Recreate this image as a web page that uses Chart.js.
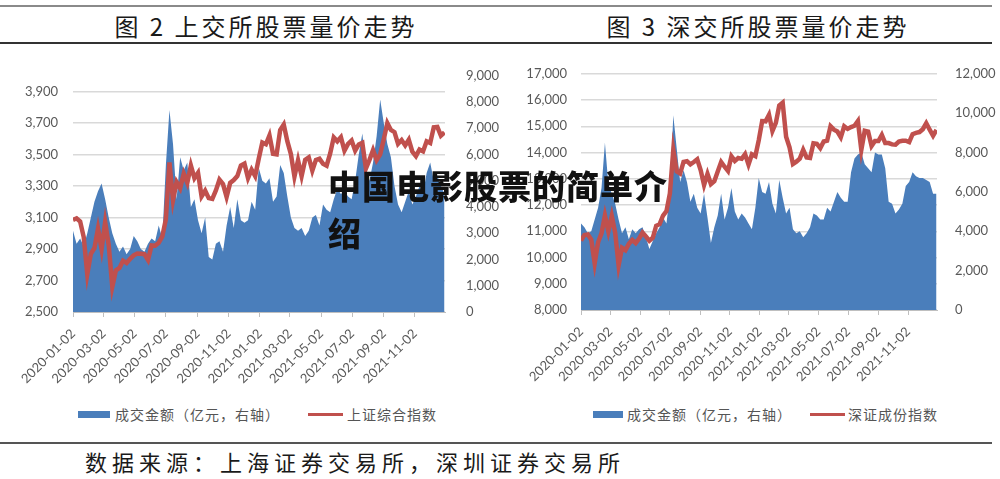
<!DOCTYPE html>
<html>
<head>
<meta charset="utf-8">
<script src="https://cdn.jsdelivr.net/npm/chart.js@4.4.0/dist/chart.umd.min.js"></script>
<style>
  body { margin: 0; width: 1000px; height: 479px; background: #fff; position: relative; overflow: hidden; font-family: "Noto Sans CJK SC", sans-serif; }
  .rule { position: absolute; left: 0; width: 992px; }
  .title { position: absolute; top: 11px; width: 400px; text-align: center; font-size: 24px; line-height: 30px; letter-spacing: 3px; color: #1a1a1a; }
  .box { position: absolute; width: 500px; }
  .legend { position: absolute; top: 404px; font-size: 14px; line-height: 20px; letter-spacing: 1px; color: #555; white-space: nowrap; }
  .swatch { position: absolute; }
  .source { position: absolute; left: 85px; top: 446px; font-size: 22px; line-height: 30px; letter-spacing: 5px; color: #1a1a1a; white-space: nowrap; }
  .mark { position: absolute; left: 328px; top: 162px; width: 350px; font-size: 33px; line-height: 47px; letter-spacing: 1px; font-weight: 900; color: #111; }
</style>
</head>
<body>
<div class="rule" style="top:5px;height:2px;background:#8a8a8a"></div>
<div class="rule" style="top:42px;height:2px;background:#333"></div>
<div class="rule" style="top:442px;height:2px;background:#555"></div>

<div class="title" style="left:66px">图 2 上交所股票量价走势</div>
<div class="title" style="left:558px">图 3 深交所股票量价走势</div>

<div class="box" style="left:0;top:53px;height:347px"><canvas id="sh" width="500" height="347"></canvas></div>
<div class="box" style="left:500px;top:52px;height:348px"><canvas id="sz" width="500" height="348"></canvas></div>

<div class="swatch" style="left:78px;top:411px;width:32px;height:7px;background:#4a7ebb"></div>
<div class="legend" style="left:115px">成交金额（亿元，右轴）</div>
<div class="swatch" style="left:308px;top:413px;width:35px;height:3px;background:#c0504d"></div>
<div class="legend" style="left:347px">上证综合指数</div>

<div class="swatch" style="left:593px;top:411px;width:30px;height:7px;background:#4a7ebb"></div>
<div class="legend" style="left:627px">成交金额（亿元，右轴）</div>
<div class="swatch" style="left:810px;top:413px;width:35px;height:3px;background:#c0504d"></div>
<div class="legend" style="left:848px">深证成份指数</div>

<div class="source">数据来源：上海证券交易所，深圳证券交易所</div>

<div class="mark">中国电影股票的简单介绍</div>

<script>
// weekly samples starting 2020-01-02
const startDate = '2020-01-02';
const endDate = '2021-12-31';
const stepDays = 7;

const xTickLabels = ['2020-01-02', '2020-03-02', '2020-05-02', '2020-07-02', '2020-09-02', '2020-11-02',
  '2021-01-02', '2021-03-02', '2021-05-02', '2021-07-02', '2021-09-02', '2021-11-02'];

// 上证综合指数
const shIndex = [
  3085, 3095, 3075, 2976, 2740, 2870, 2906, 3030, 2900, 3071,
  2923, 2660, 2764, 2780, 2826, 2811, 2838, 2860, 2871, 2870,
  2867, 2830, 2923, 2921, 2939, 2980, 3090, 3450, 3210, 3325,
  3286, 3378, 3320, 3430, 3350, 3384, 3234, 3270, 3223, 3218,
  3272, 3340, 3312, 3230, 3320, 3338, 3363, 3430, 3442, 3350,
  3404, 3363, 3473, 3576, 3565, 3621, 3505, 3501, 3655, 3690,
  3585, 3503, 3360, 3463, 3363, 3466, 3482, 3398, 3466, 3474,
  3441, 3429, 3507, 3609, 3584, 3610, 3525, 3567, 3589, 3525,
  3564, 3574, 3411, 3466, 3528, 3465, 3501, 3597, 3700, 3656,
  3642, 3568, 3592, 3558, 3594, 3518, 3490, 3532, 3520, 3584,
  3573, 3673, 3675, 3620, 3640
];
// 上交所成交金额（亿元）
const shVolume = [
  3100, 2600, 2800, 2500, 3000, 3600, 4200, 4600, 4900, 4300,
  3600, 3000, 2600, 2300, 2500, 2200, 2400, 2900, 2700, 2400,
  2300, 2600, 2800, 2700, 3300, 2800, 5600, 7700, 6400, 4300,
  5900, 5400, 5700, 4000, 4300, 3500, 3000, 3600, 2100, 2000,
  2600, 2700, 2300, 3300, 4000, 3200, 4300, 3500, 3400, 3500,
  4200, 3900, 5500, 5000, 4900, 5100, 4200, 4400, 5600, 5300,
  4400, 3600, 3200, 3100, 3200, 2900, 3100, 3600, 3700, 3300,
  4100, 3900, 3800, 4300, 4700, 4500, 4600, 4400, 4300, 5000,
  6000, 6800, 5500, 5000, 5700, 6700, 8100, 7200, 6400, 5900,
  4800, 4100, 3800, 4200, 4600, 4100, 4400, 4800, 4500, 5300,
  5700, 5000, 5200, 4800, 4500
];
// 深证成份指数
const szIndex = [
  10640, 10860, 10880, 10680, 9780, 10580, 10920, 11600, 11000, 11580,
  10940, 9700, 10370, 10280, 10520, 10670, 10550, 10720, 10950, 10800,
  10640, 10750, 11210, 11270, 11600, 11770, 12440, 14100, 13280, 13200,
  13640, 13670, 13550, 13640, 13740, 13330, 12760, 13190, 12800, 12910,
  13280, 13640, 13460, 13300, 13860, 13680, 13790, 13760, 13940, 13540,
  13930, 13860, 14470, 15200, 15190, 15440, 14820, 15130, 15790, 15900,
  14600, 14200, 13560, 13650, 13770, 14100, 13810, 13790, 14350, 14330,
  14170, 14420, 14450, 15000, 14870, 14800, 14580, 15000, 14900, 14970,
  15020, 15200, 14100, 14830, 14800, 14250, 14440, 14440, 14670, 14360,
  14360, 14310, 14300, 14420, 14450, 14450, 14400, 14700, 14750, 14780,
  14890, 15120, 14870, 14640, 14860
];
// 深交所成交金额（亿元）
const szVolume = [
  4400, 4200, 3900, 4000, 4600, 5200, 6200, 8500, 6400, 5900,
  5400, 4600, 3900, 4200, 3600, 4100, 3900, 4100, 4200, 3700,
  3100, 3500, 3900, 4200, 4700, 4400, 5900, 9900, 8200, 6500,
  7100, 6500, 5500, 5900, 5200, 4900, 5900, 4700, 3400, 4200,
  4800, 5900, 4600, 5200, 6200, 5000, 4600, 4900, 4700, 4400,
  4100, 5200, 6700, 6000, 5900, 6500, 5400, 4900, 6600, 5700,
  4900, 5200, 4100, 3900, 4000, 3700, 3900, 4200, 4900, 4800,
  4600, 4600, 5200, 5000, 5500, 6000, 5700, 5500, 5500, 7000,
  7700, 7900, 8000, 7400, 7200, 7000, 8000, 7900, 7900, 7200,
  5500, 5400, 4900, 5100, 5400, 6300, 6500, 7000, 6800, 6700,
  6700, 6600, 6500, 5900, 5900
];

const shLeftTicks = [2500, 2700, 2900, 3100, 3300, 3500, 3700, 3900];
const shRightTicks = [0, 1000, 2000, 3000, 4000, 5000, 6000, 7000, 8000, 9000];
const szLeftTicks = [8000, 9000, 10000, 11000, 12000, 13000, 14000, 15000, 16000, 17000];
const szRightTicks = [0, 2000, 4000, 6000, 8000, 10000, 12000];

const BLUE = '#4a7ebb';
const RED = '#c0504d';
const TICK_FONT = { family: 'Lato', size: 13 };
const TICK_COLOR = '#595959';

function dayOffset(d) {
  return (Date.parse(d) - Date.parse(startDate)) / 864e5;
}

const tickDays = xTickLabels.map(dayOffset);

function toPoints(values) {
  return values.map((v, i) => ({ x: i * stepDays, y: v }));
}

function fmt(v) {
  return Number(v).toLocaleString('en-US');
}

function buildChart(id, opts) {
  const config = {
    type: 'line',
    data: {
      datasets: [
        {
          label: opts.lineLabel,
          data: toPoints(opts.index),
          yAxisID: 'y',
          borderColor: RED,
          borderWidth: 4.5,
          pointRadius: 0,
          fill: false,
          order: 0,
        },
        {
          label: '成交金额（亿元，右轴）',
          data: toPoints(opts.volume),
          yAxisID: 'y1',
          borderWidth: 0,
          borderColor: BLUE,
          backgroundColor: BLUE,
          pointRadius: 0,
          fill: 'origin',
          order: 1,
        },
      ],
    },
    options: {
      responsive: false,
      animation: false,
      layout: { padding: { top: opts.padTop } },
      plugins: { legend: { display: false }, tooltip: { enabled: false } },
      scales: {
        x: {
          type: 'linear',
          min: 0,
          max: dayOffset(endDate),
          afterBuildTicks: (axis) => {
            axis.ticks = tickDays.map((v) => ({ value: v }));
          },
          afterFit: (s) => { s.height = opts.xHeight; },
          grid: { drawOnChartArea: false, drawTicks: true, tickLength: 5, color: '#bfbfbf' },
          border: { display: true, color: '#bfbfbf' },
          ticks: {
            autoSkip: false,
            minRotation: 45,
            maxRotation: 45,
            padding: 9,
            font: TICK_FONT,
            color: TICK_COLOR,
            callback: (v) => xTickLabels[tickDays.indexOf(v)],
          },
        },
        y: {
          position: 'left',
          min: opts.leftMin,
          max: opts.leftMax,
          afterBuildTicks: (axis) => {
            axis.ticks = opts.leftTicks.map((v) => ({ value: v }));
          },
          afterFit: (s) => { s.width = opts.leftWidth; },
          grid: { color: '#d9d9d9', lineWidth: 1.5, drawTicks: false },
          border: { display: false },
          ticks: { padding: opts.leftPad, font: TICK_FONT, color: TICK_COLOR, callback: fmt },
        },
        y1: {
          position: 'right',
          min: 0,
          max: opts.rightMax,
          afterBuildTicks: (axis) => {
            axis.ticks = opts.rightTicks.map((v) => ({ value: v }));
          },
          afterFit: (s) => { s.width = opts.rightWidth; },
          grid: { display: false },
          border: { display: false },
          ticks: { padding: opts.rightPad, font: TICK_FONT, color: TICK_COLOR, callback: fmt },
        },
      },
    },
  };
  return new Chart(document.getElementById(id), config);
}

buildChart('sh', {
  lineLabel: '上证综合指数',
  index: shIndex,
  volume: shVolume,
  leftMin: 2500,
  leftMax: 4000,
  leftTicks: shLeftTicks,
  rightMax: 9000,
  rightTicks: shRightTicks,
  padTop: 13,
  xHeight: 88,
  leftWidth: 73,
  rightWidth: 55,
  leftPad: 15,
  rightPad: 13,
});

buildChart('sz', {
  lineLabel: '深证成份指数',
  index: szIndex,
  volume: szVolume,
  leftMin: 8000,
  leftMax: 17000,
  leftTicks: szLeftTicks,
  rightMax: 12000,
  rightTicks: szRightTicks,
  padTop: 12,
  xHeight: 90,
  leftWidth: 81,
  rightWidth: 63,
  leftPad: 14,
  rightPad: 10,
});
</script>
</body>
</html>
